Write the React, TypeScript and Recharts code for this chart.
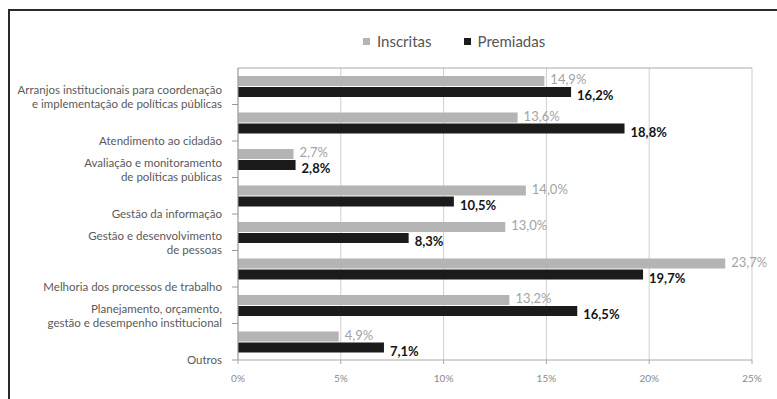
import { Bar, BarChart, CartesianGrid, LabelList, XAxis, YAxis } from "recharts";

const categories = [
  "Arranjos institucionais para coordenação\ne implementação de políticas públicas",
  "Atendimento ao cidadão",
  "Avaliação e monitoramento\nde políticas públicas",
  "Gestão da informação",
  "Gestão e desenvolvimento\nde pessoas",
  "Melhoria dos processos de trabalho",
  "Planejamento, orçamento,\ngestão e desempenho institucional",
  "Outros",
];
const inscritas = [14.9, 13.6, 2.7, 14.0, 13.0, 23.7, 13.2, 4.9];
const premiadas = [16.2, 18.8, 2.8, 10.5, 8.3, 19.7, 16.5, 7.1];
const xTicks = [0, 5, 10, 15, 20, 25];

const series = [
  { key: "inscritas", name: "Inscritas", color: "#b4b4b4", label: "#a3a3a3", bold: false, dy: -2 },
  { key: "premiadas", name: "Premiadas", color: "#1b1b1b", label: "#141414", bold: true, dy: 3 },
];

const data = categories.map((name, i) => ({ name, inscritas: inscritas[i], premiadas: premiadas[i] }));

const FONT = "Lato, 'Open Sans', sans-serif";
const PLOT_TOP = 68;
const PLOT_BOTTOM = 360;
const band = (PLOT_BOTTOM - PLOT_TOP) / categories.length;

const fmt = (v: number) => `${v.toFixed(1).replace(".", ",")}%`;

function CategoryTick({ x, y, payload }: any) {
  const lines = String(payload.value).split("\n");
  const edge = y + band / 2;
  return (
    <g>
      <line x1={x} x2={x + 6} y1={edge} y2={edge} stroke="#9a9a9a" />
      {lines.map((line, i) => (
        <text
          key={i}
          x={x - 10}
          y={edge - 1 - (lines.length - 1 - i) * 14}
          textAnchor="end"
          dominantBaseline="central"
          fontSize={11.5}
          fontFamily={FONT}
          fill="#5a5a5a"
        >
          {line}
        </text>
      ))}
    </g>
  );
}

const valueLabel = (color: string, bold: boolean, dy: number) => (props: any) => {
  const { x, y, width, height, value } = props;
  return (
    <text
      x={x + width + 6}
      y={y + height / 2 + dy}
      dominantBaseline="central"
      fontSize={13}
      fontFamily={FONT}
      fontWeight={bold ? 700 : 400}
      fill={color}
    >
      {fmt(value)}
    </text>
  );
};

export default function App() {
  return (
    <div style={{ position: "relative", width: 777, height: 399, background: "#fff", fontFamily: FONT }}>
      <style>{"body{margin:0;overflow:hidden}"}</style>
      <div
        style={{
          position: "absolute",
          left: 8,
          top: 9,
          width: 769,
          height: 390,
          boxSizing: "border-box",
          borderTop: "2px solid #2a2a2a",
          borderLeft: "2px solid #2a2a2a",
        }}
      />
      <div
        style={{
          position: "absolute",
          top: 32,
          left: 363,
          display: "flex",
          gap: 32,
          fontSize: 15,
          color: "#555",
        }}
      >
        {series.map((s) => (
          <div key={s.key} style={{ display: "flex", alignItems: "center", gap: 7 }}>
            <span style={{ width: 7, height: 7, background: s.color, display: "inline-block" }} />
            <span>{s.name}</span>
          </div>
        ))}
      </div>
      <div style={{ position: "absolute", left: 0, top: 0 }}>
        <BarChart
          width={777}
          height={399}
          data={data}
          layout="vertical"
          margin={{ top: PLOT_TOP - 4, right: 25, bottom: 0, left: 0 }}
          barSize={10}
          barGap={1}
        >
          <CartesianGrid horizontal={false} stroke="#cfcfcf" />
          <XAxis
            type="number"
            domain={[0, 25]}
            ticks={xTicks}
            height={399 - PLOT_BOTTOM}
            tickFormatter={(v) => `${v}%`}
            tick={{ fontSize: 10, fill: "#8a8a8a", fontFamily: FONT }}
            tickSize={4}
            tickMargin={11}
            stroke="#a8a8a8"
          />
          <XAxis
            xAxisId="top"
            orientation="top"
            type="number"
            domain={[0, 25]}
            ticks={xTicks}
            height={4}
            tickFormatter={() => ""}
            tickSize={4}
            stroke="#a8a8a8"
          />
          <YAxis
            type="category"
            dataKey="name"
            width={238}
            interval={0}
            tickLine={false}
            tickSize={6}
            tickMargin={0}
            tick={<CategoryTick />}
            stroke="#9a9a9a"
          />
          {series.map((s) => (
            <Bar key={s.key} dataKey={s.key} name={s.name} fill={s.color} isAnimationActive={false}>
              <LabelList dataKey={s.key} content={valueLabel(s.label, s.bold, s.dy)} />
            </Bar>
          ))}
        </BarChart>
      </div>
    </div>
  );
}
